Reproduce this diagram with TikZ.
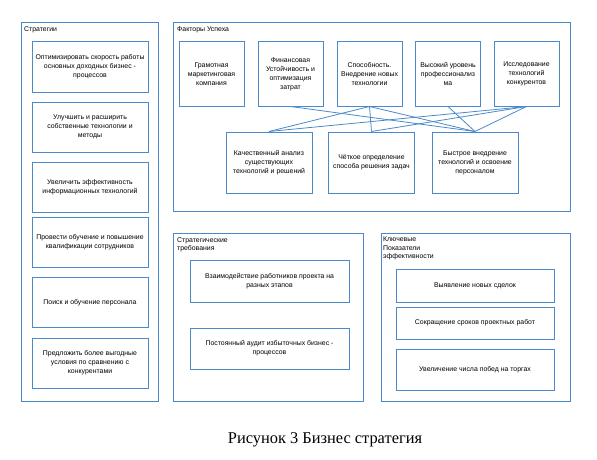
\documentclass[tikz,border=0pt]{standalone}
\usepackage{fontspec}
\setmainfont{Liberation Sans}
\newfontfamily\capfont{Liberation Serif}
\usetikzlibrary{arrows.meta}
\definecolor{boxblue}{RGB}{74,138,202}
\tikzset{frame/.style={draw=boxblue,line width=0.9pt,inner sep=0pt},
	box/.style={draw=boxblue,line width=1pt,align=center,inner sep=0pt,
		font=\fontsize{6.9}{9}\selectfont},
	ttl/.style={anchor=north west,align=left,inner sep=0pt,
		font=\fontsize{6.9}{8.5}\selectfont}}

\begin{document}
\begin{tikzpicture}[x=1pt,y=-1pt]
		\useasboundingbox (0,0) rectangle (597,460);
		% containers
		\begin{scope}[every node/.style={frame}]
			\node[minimum width=137pt,minimum height=379pt] (CS) at (89.5,211.5) {};
			\node[minimum width=397pt,minimum height=189pt] (CF) at (371.5,116.5) {};
			\node[minimum width=190pt,minimum height=168pt] (CT) at (268,317) {};
			\node[minimum width=189pt,minimum height=168pt] (CK) at (475.5,317) {};
		\end{scope}
		\node[ttl] (tS) at (24,26) {Стратегии};
		\node[ttl] (tF) at (177,27) {Факторы Успеха};
		\node[ttl] (tT) at (177,237) {Стратегические\\требования};
		\node[ttl] (tK) at (383,237) {Ключевые\\Показатели\\эффективности};
		% strategies
		\begin{scope}[every node/.style={box,minimum width=116pt,minimum height=50pt}]
			\node (S1) at (90,67) {Оптимизировать скорость работы\\основных доходных бизнес -\\процессов};
			\node (S2) at (90,127) {Улучшить и расширить\\собственные технологии и\\методы};
			\node (S3) at (90,187) {Увеличить эффективность\\информационных технологий};
			\node (S4) at (90,242) {Провести обучение и повышение\\квалификации сотрудников};
			\node (S5) at (90,302.5) {Поиск и обучение персонала};
			\node (S6) at (90,363) {Предложить более выгодные\\условия по сравнению с\\конкурентами};
		\end{scope}
		% success factors
		\begin{scope}[every node/.style={box,minimum width=65pt,minimum height=64pt}]
			\node (F1) at (211.5,74) {Грамотная\\маркетинговая\\компания};
			\node (F2) at (290.5,74) {Финансовая\\Устойчивость и\\оптимизация\\затрат};
			\node (F3) at (369.5,74) {Способность.\\Внедрение новых\\технологии};
			\node (F4) at (448,74) {Высокий уровень\\профессионализ\\ма};
			\node (F5) at (526.5,74) {Исследование\\технологий\\конкурентов};
		\end{scope}
		\begin{scope}[every node/.style={box,minimum width=86pt,minimum height=61pt}]
			\node (F6) at (269,162.5) {Качественный анализ\\существующих\\технологий и решений};
			\node (F7) at (371.5,162.5) {Чёткое определение\\способа решения задач};
			\node (F8) at (475,162.5) {Быстрое внедрение\\технологий и освоение\\персоналом};
		\end{scope}
		\begin{scope}[every edge/.style={draw=boxblue,line width=0.8pt}]
			\path [-] (F6.north) edge (F3.south);
			\path [-] (F7.north) edge (F3.south);
			\path [-] (F8.north) edge (F3.south);
			\path [-] (F8.north) edge (F2.south);
			\path [-] (F8.north) edge (F4.south);
			\path [-] (F8.north) edge (F5.south);
			\path [-] (F6.north) edge (F5.south);
			\path [-] (F7.north) edge (F5.south);
		\end{scope}
		% requirements
		\begin{scope}[every node/.style={box,minimum width=159pt}]
			\node[minimum height=42pt] (T1) at (269.5,281) {Взаимодействие работников проекта на\\разных этапов};
			\node[minimum height=41pt] (T2) at (269.5,348.5) {Постоянный аудит избыточных бизнес -\\процессов};
		\end{scope}
		% key indicators
		\begin{scope}[every node/.style={box,minimum width=158pt}]
			\node[minimum height=33pt] (K1) at (475,285.5) {Выявление новых сделок};
			\node[minimum height=32pt] (K2) at (475,323) {Сокращение сроков проектных работ};
			\node[minimum height=41pt] (K3) at (475,369.5) {Увеличение числа побед на торгах};
		\end{scope}
		\node[font=\capfont\fontsize{16.4}{19}\selectfont] (cap) at (325,440) {Рисунок 3 Бизнес стратегия};
	\end{tikzpicture}
\end{document}
